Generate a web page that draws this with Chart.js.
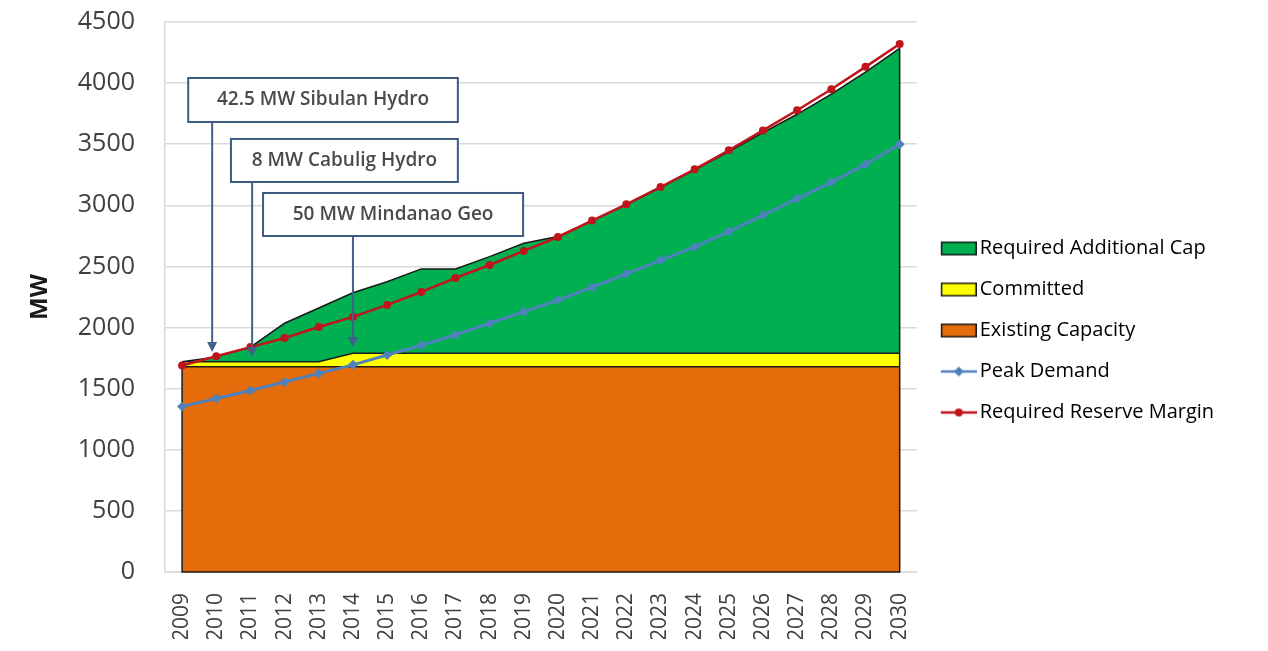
<!DOCTYPE html>
<html lang="en">
<head>
<meta charset="UTF-8">
<title>Mindanao Supply-Demand Outlook 2009-2030</title>
<script src="https://cdn.jsdelivr.net/npm/chart.js"></script>
<style>
  html, body { margin: 0; padding: 0; background: #fff; }
  #wrap { width: 1268px; height: 651px; }
</style>
</head>
<body>
<div id="wrap"><canvas id="chart"></canvas></div>
<script>
// data (MW)
const years = ['2009', '2010', '2011', '2012', '2013', '2014', '2015', '2016', '2017', '2018', '2019',
               '2020', '2021', '2022', '2023', '2024', '2025', '2026', '2027', '2028', '2029', '2030'];
const existingCapacity = [1680, 1680, 1680, 1680, 1680, 1680, 1680, 1680, 1680, 1680, 1680,
                          1680, 1680, 1680, 1680, 1680, 1680, 1680, 1680, 1680, 1680, 1680];
const committedCapacity = [40, 40, 40, 40, 40, 110, 110, 110, 110, 110, 110,
                           110, 110, 110, 110, 110, 110, 110, 110, 110, 110, 110];
const requiredAdditionalCap = [0, 40, 120, 315, 440, 495, 585, 690, 690, 790, 900,
                               955, 1085, 1215, 1355, 1500, 1650, 1805, 1955, 2120, 2300, 2495];
const peakDemand = [1355, 1420, 1485, 1555, 1625, 1695, 1775, 1855, 1940, 2035, 2130,
                    2225, 2330, 2440, 2550, 2660, 2785, 2920, 3055, 3190, 3335, 3500];
const requiredReserveMargin = [1690, 1765, 1840, 1915, 2005, 2087, 2185, 2291, 2406, 2512, 2627,
                               2741, 2875, 3008, 3150, 3295, 3450, 3613, 3778, 3950, 4133, 4320];
const yTickValues = [0, 500, 1000, 1500, 2000, 2500, 3000, 3500, 4000, 4500];
const projectNotes = ['42.5 MW Sibulan Hydro', '8 MW Cabulig Hydro', '50 MW Mindanao Geo'];

// callout boxes, placed in axis units (category index, MW)
const callouts = [
  { text: projectNotes[0], x0: 0.18, x1: 8.07, yTop: 4042, yBottom: 3682, arrowX: 0.88, arrowTo: 1800 },
  { text: projectNotes[1], x0: 1.43, x1: 8.07, yTop: 3543, yBottom: 3191, arrowX: 2.05, arrowTo: 1759 },
  { text: projectNotes[2], x0: 2.37, x1: 9.98, yTop: 3101, yBottom: 2749, arrowX: 5.0, arrowTo: 1841 }
];

const GREEN = '#00b050', YELLOW = '#ffff00', ORANGE = '#e46c0a';
const BLUE = '#4f81bd', RED = '#c0141c', EDGE = '#1a1a1a';
const FONT = "'Open Sans', sans-serif";

// legend swatches
function swatch(fill) {
  const c = document.createElement('canvas');
  c.width = 46; c.height = 16;
  const g = c.getContext('2d');
  g.fillStyle = fill;
  g.fillRect(10, 1, 36, 14);
  g.strokeStyle = EDGE; g.lineWidth = 1.5;
  g.strokeRect(10.75, 1.75, 34.5, 12.5);
  return c;
}
function lineMark(color, diamond) {
  const c = document.createElement('canvas');
  c.width = 46; c.height = 14;
  const g = c.getContext('2d');
  g.strokeStyle = color; g.lineWidth = 2.5;
  g.beginPath(); g.moveTo(10, 7); g.lineTo(46, 7); g.stroke();
  g.fillStyle = color;
  g.beginPath();
  if (diamond) {
    g.moveTo(28, 2); g.lineTo(33, 7); g.lineTo(28, 12); g.lineTo(23, 7); g.closePath();
  } else {
    g.arc(28, 7, 4, 0, Math.PI * 2);
  }
  g.fill();
  return c;
}

const legendItems = [
  { text: 'Required Additional Cap', img: swatch(GREEN), ds: 2 },
  { text: 'Committed', img: swatch(YELLOW), ds: 1 },
  { text: 'Existing Capacity', img: swatch(ORANGE), ds: 0 },
  { text: 'Peak Demand', img: lineMark(BLUE, true), ds: 3 },
  { text: 'Required Reserve Margin', img: lineMark(RED, false), ds: 4 }
];

// black outline on the outer sides of the stacked area
const areaEdges = {
  id: 'areaEdges',
  afterDatasetDraw(chart, args) {
    if (args.index !== 0) return;
    const base = chart.getDatasetMeta(0).data;
    const top = chart.getDatasetMeta(2).data;
    const y0 = chart.scales.y.getPixelForValue(0);
    const n = base.length - 1;
    const ctx = chart.ctx;
    ctx.save();
    ctx.strokeStyle = EDGE; ctx.lineWidth = 1.5;
    ctx.beginPath();
    ctx.moveTo(top[0].x, top[0].y); ctx.lineTo(base[0].x, y0);
    ctx.lineTo(base[n].x, y0); ctx.lineTo(top[n].x, top[n].y);
    ctx.stroke();
    ctx.restore();
  }
};

const calloutPlugin = {
  id: 'callouts',
  afterDraw(chart) {
    const {ctx, scales: {x, y}} = chart;
    ctx.save();
    callouts.forEach(c => {
      const l = x.getPixelForValue(c.x0), r = x.getPixelForValue(c.x1);
      const t = y.getPixelForValue(c.yTop), b = y.getPixelForValue(c.yBottom);
      const ax = x.getPixelForValue(c.arrowX), tip = y.getPixelForValue(c.arrowTo);
      // arrow
      ctx.strokeStyle = '#41608a'; ctx.fillStyle = '#41608a'; ctx.lineWidth = 2;
      ctx.beginPath(); ctx.moveTo(ax, b); ctx.lineTo(ax, tip - 8); ctx.stroke();
      ctx.beginPath(); ctx.moveTo(ax - 5, tip - 10); ctx.lineTo(ax + 5, tip - 10); ctx.lineTo(ax, tip); ctx.closePath(); ctx.fill();
      // box
      ctx.fillStyle = '#fff';
      ctx.fillRect(l, t, r - l, b - t);
      ctx.strokeStyle = '#3d5a80'; ctx.lineWidth = 2;
      ctx.strokeRect(l, t, r - l, b - t);
      ctx.fillStyle = '#4a4a4a';
      ctx.font = '600 19px ' + FONT;
      ctx.textAlign = 'center'; ctx.textBaseline = 'middle';
      ctx.fillText(c.text, (l + r) / 2, (t + b) / 2);
    });
    ctx.restore();
  }
};

// keep the plot's right edge where the picture has it
const mctx = document.createElement('canvas').getContext('2d');
mctx.font = '20px ' + FONT;
const longest = Math.max(...legendItems.map(i => mctx.measureText(i.text).width));
const rightPad = Math.max(0, 1268 - 915 - (21 + 32 + 10 + longest + 10));

new Chart(document.getElementById('chart'), {
  type: 'line',
  data: {
    labels: years,
    datasets: [
      { label: 'Existing Capacity', data: existingCapacity, stack: 'cap', order: 2,
        backgroundColor: ORANGE, borderColor: EDGE, borderWidth: 1.5, fill: 'origin', pointRadius: 0 },
      { label: 'Committed', data: committedCapacity, stack: 'cap', order: 2,
        backgroundColor: YELLOW, borderColor: EDGE, borderWidth: 1.5, fill: '-1', pointRadius: 0 },
      { label: 'Required Additional Cap', data: requiredAdditionalCap, stack: 'cap', order: 2,
        backgroundColor: GREEN, borderColor: EDGE, borderWidth: 1.5, fill: '-1', pointRadius: 0 },
      { label: 'Peak Demand', data: peakDemand, stack: 'peak', order: 1,
        borderColor: BLUE, backgroundColor: BLUE, borderWidth: 3, fill: false,
        pointStyle: 'rectRot', pointRadius: 5, pointBorderWidth: 0 },
      { label: 'Required Reserve Margin', data: requiredReserveMargin, stack: 'reserve', order: 1,
        borderColor: RED, backgroundColor: RED, borderWidth: 2.5, fill: false,
        pointStyle: 'circle', pointRadius: 4, pointBorderWidth: 0 }
    ]
  },
  options: {
    responsive: true,
    maintainAspectRatio: false,
    animation: false,
    events: [],
    layout: { padding: { left: 0, top: 22, right: rightPad, bottom: 12 } },
    elements: { line: { tension: 0 } },
    scales: {
      x: {
        offset: true,
        grid: { display: false, drawTicks: false },
        border: { display: true, color: '#d9d9d9', width: 1.5 },
        ticks: { autoSkip: false, maxRotation: 90, minRotation: 90, padding: 21,
                 color: '#404040', font: { family: FONT, size: 21 } },
        afterFit: s => { s.height = 67; }
      },
      y: {
        stacked: true,
        min: 0, max: 4500,
        afterBuildTicks: s => { s.ticks = yTickValues.map(v => ({ value: v })); },
        grid: { color: '#d9d9d9', lineWidth: 1.5, drawTicks: true, tickLength: 28, tickColor: 'rgba(0,0,0,0)' },
        border: { display: true, color: '#d9d9d9', width: 1.5 },
        ticks: { padding: 2, color: '#404040', font: { family: FONT, size: 25 },
                 callback: v => String(v) },
        title: { display: true, text: 'MW', color: '#1a1a1a',
                 font: { family: FONT, size: 24, weight: 'bold' }, padding: { top: 26, bottom: 0 } },
        afterFit: s => { s.width = 165; }
      }
    },
    plugins: {
      tooltip: { enabled: false },
      legend: {
        position: 'right',
        labels: {
          usePointStyle: true,
          pointStyleWidth: 32,
          padding: 21,
          color: '#404040',
          font: { family: FONT, size: 20 },
          generateLabels: () => legendItems.map(i => ({
            text: i.text, pointStyle: i.img, datasetIndex: i.ds,
            fillStyle: 'transparent', strokeStyle: 'transparent', lineWidth: 0, hidden: false
          }))
        }
      }
    }
  },
  plugins: [areaEdges, calloutPlugin]
});
</script>
</body>
</html>
